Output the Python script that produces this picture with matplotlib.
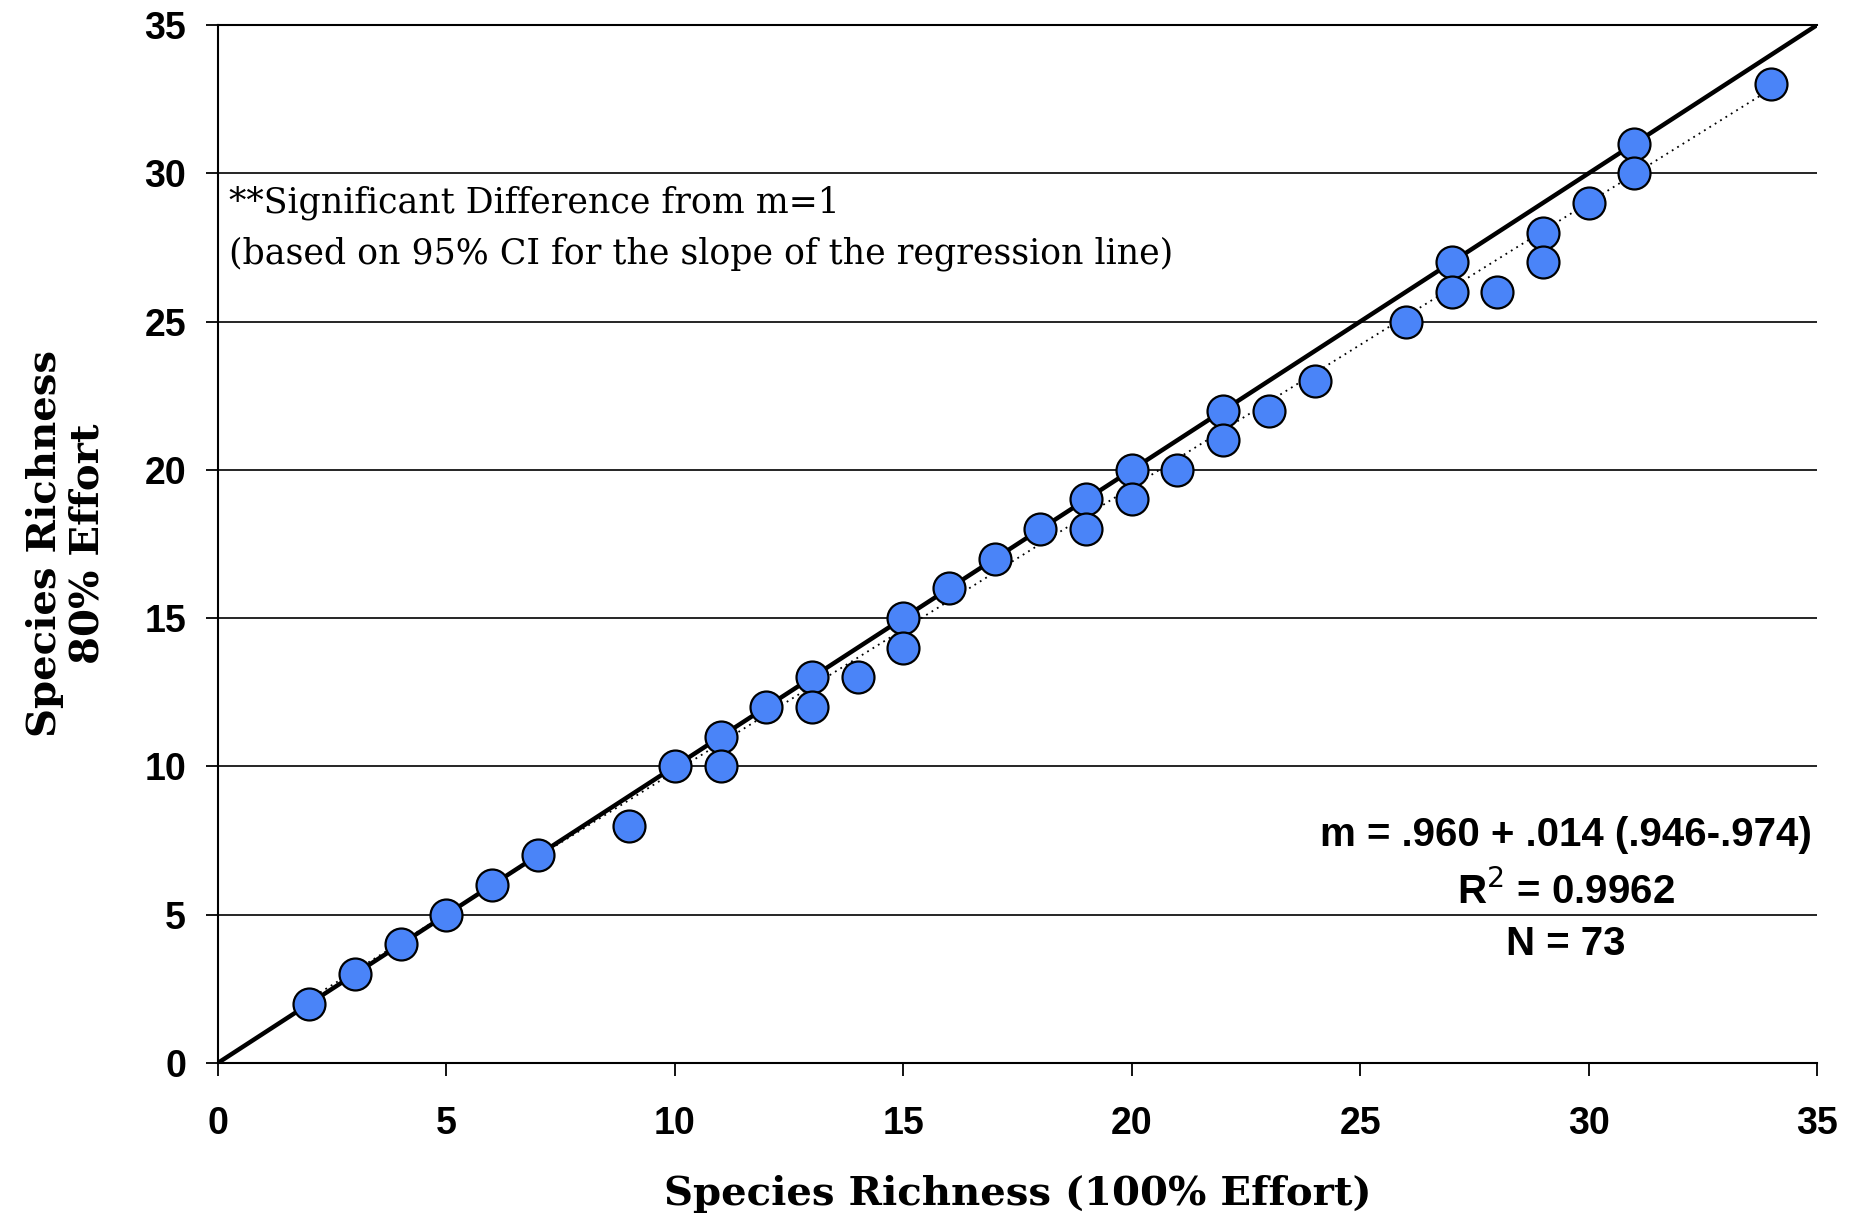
import matplotlib.pyplot as plt

# species richness at 100% effort vs 80% effort
x_full = [2, 3, 4, 5, 6, 7, 9, 10, 11, 11, 12, 13, 13, 14, 15, 15, 16, 17, 18,
          19, 19, 20, 20, 21, 22, 22, 23, 24, 26, 27, 27, 28, 29, 29, 30, 31, 31, 34]
y_80 = [2, 3, 4, 5, 6, 7, 8, 10, 11, 10, 12, 13, 12, 13, 15, 14, 16, 17, 18,
        19, 18, 20, 19, 20, 22, 21, 22, 23, 25, 27, 26, 26, 28, 27, 29, 31, 30, 33]

one_to_one = [0, 35]
trend_x = [2, 34]
trend_y = [2.15, 32.85]

ticks = [0, 5, 10, 15, 20, 25, 30, 35]

note_lines = ["**Significant Difference from m=1",
              "(based on 95% CI for the slope of the regression line)"]
stats_lines = ["m = .960 + .014 (.946-.974)", r"R$^2$ = 0.9962", "N = 73"]

tick_font = ["Liberation Sans", "DejaVu Sans"]
serif_font = ["DejaVu Serif"]

fig = plt.figure(figsize=(18.58, 12.18), dpi=100)
ax = fig.add_axes([0.1173, 0.1273, 0.8607, 0.8522])

ax.plot(one_to_one, one_to_one, color="black", lw=3.2, zorder=3)
ax.plot(trend_x, trend_y, color="black", lw=1.3, ls=(0, (1, 2.5)), zorder=3)
ax.scatter(x_full, y_80, s=23**2, color="#4a84f8", edgecolor="black",
           linewidth=1.6, zorder=4, clip_on=False)

ax.set_xlim(0, 35)
ax.set_ylim(0, 35)
ax.set_xticks(ticks)
ax.set_yticks(ticks)
ax.yaxis.grid(True, color="black", lw=1.2)
ax.set_axisbelow(True)

ax.spines["right"].set_visible(False)
for s in ["left", "bottom", "top"]:
    ax.spines[s].set_linewidth(1.5)

ax.tick_params(axis="both", direction="out", length=9, width=1.3)
ax.tick_params(axis="y", pad=14)
ax.tick_params(axis="x", pad=22)
for lab in ax.get_xticklabels() + ax.get_yticklabels():
    lab.set_family(tick_font)
    lab.set_fontweight("bold")
    lab.set_fontsize(27)

ax.set_xlabel("Species Richness (100% Effort)", family=serif_font,
              fontweight="bold", fontsize=29, labelpad=24)
ax.set_ylabel("Species Richness\n80% Effort", family=serif_font,
              fontweight="bold", fontsize=29, labelpad=27, linespacing=1.15)

ax.text(0.24, 29.0, note_lines[0], family=serif_font, fontsize=25,
        va="center", ha="left")
ax.text(0.24, 27.3, note_lines[1], family=serif_font, fontsize=25,
        va="center", ha="left")

for txt, yy in zip(stats_lines, [7.69, 5.77, 4.01]):
    ax.text(29.5, yy, txt, family=["Liberation Sans", "DejaVu Sans"],
            fontweight="bold", fontsize=29, ha="center", va="center")

fig.savefig("out.png", dpi=100)
